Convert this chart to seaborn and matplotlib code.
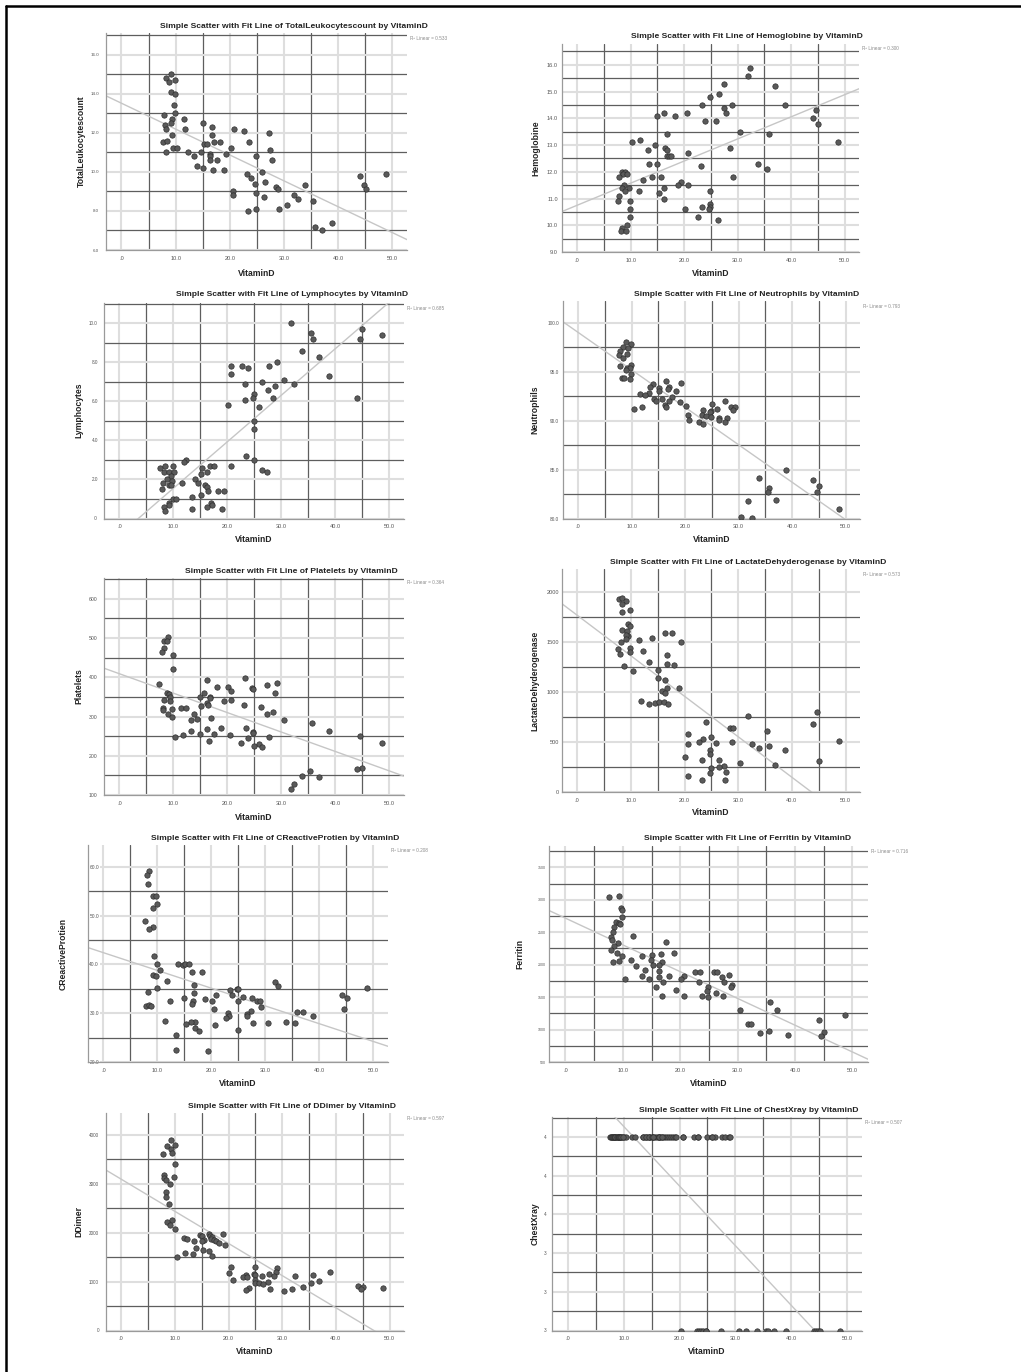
import matplotlib
matplotlib.use("Agg")
import matplotlib.pyplot as plt
from matplotlib.lines import Line2D
from matplotlib.ticker import FixedLocator, FixedFormatter
import numpy as np
import pandas as pd
import seaborn as sns

sns.set_theme(style="white")
plt.rcParams['font.family'] = ['Liberation Sans', 'DejaVu Sans']

# ---------------- data ----------------
leuk_vitd = [9.1, 8.2, 8.8, 9.9, 9.1, 9.9, 9.7, 9.9, 7.9, 9.3, 11.5, 8.1, 9.1, 8.3, 11.8, 15.1, 16.8,
             20.7, 22.6, 27.3, 9.4, 16.8, 7.6, 8.4, 15.3, 15.7, 17.0, 18.2, 23.5, 9.6, 10.3, 20.2, 27.4,
             8.2, 12.3, 14.6, 13.3, 16.3, 16.3, 19.3, 24.9, 16.4, 17.7, 27.7, 13.9, 15.1, 16.9, 18.9,
             25.9, 23.1, 23.9, 26.5, 24.7, 33.8, 28.5, 28.9, 20.6, 24.9, 20.6, 31.9, 26.4, 32.5, 30.5,
             35.4, 29.1, 24.9, 23.3, 38.9, 35.8, 37.0, 44.1, 44.7, 45.1, 48.8]
leuk_vals = [15.0, 14.8, 14.6, 14.7, 14.1, 14.0, 13.4, 13.0, 12.9, 12.7, 12.7, 12.4, 12.5, 12.2, 12.2,
             12.5, 12.3, 12.2, 12.1, 12.0, 11.9, 11.9, 11.5, 11.6, 11.4, 11.4, 11.5, 11.5, 11.5, 11.2,
             11.2, 11.2, 11.1, 11.0, 11.0, 11.0, 10.8, 10.9, 10.8, 10.9, 10.8, 10.6, 10.6, 10.6, 10.3,
             10.2, 10.1, 10.1, 10.0, 9.9, 9.7, 9.5, 9.4, 9.3, 9.2, 9.1, 9.0, 8.9, 8.8, 8.8, 8.7, 8.6,
             8.3, 8.5, 8.1, 8.1, 8.0, 7.4, 7.2, 7.0, 9.8, 9.3, 9.1, 9.9]

hemo_vitd = [32.4, 31.9, 27.4, 37.0, 26.5, 24.9, 23.4, 28.9, 38.9, 27.4, 44.7, 16.3, 20.5, 27.8, 15.0,
             18.2, 44.1, 23.9, 25.9, 45.1, 30.4, 16.8, 35.8, 11.75, 10.3, 48.8, 14.5, 16.4, 28.5, 13.25,
             16.7, 20.7, 16.7, 17.1, 17.6, 13.4, 15.0, 33.9, 23.1, 35.5, 8.3, 9.0, 8.6, 9.4, 7.9, 13.9,
             15.7, 29.1, 12.25, 19.4, 18.9, 20.7, 8.75, 8.4, 9.7, 16.2, 9.0, 11.5, 24.9, 15.2, 7.9, 7.6,
             9.9, 16.3, 24.9, 24.9, 23.4, 20.1, 9.9, 24.7, 9.9, 22.6, 26.4, 9.4, 8.4, 8.2, 9.2]
hemo_vals = [15.9, 15.6, 15.3, 15.2, 14.9, 14.8, 14.5, 14.5, 14.5, 14.4, 14.3, 14.2, 14.2, 14.2, 14.1,
             14.1, 14.0, 13.9, 13.9, 13.8, 13.5, 13.4, 13.4, 13.2, 13.1, 13.1, 13.0, 12.9, 12.9, 12.8,
             12.8, 12.7, 12.6, 12.6, 12.6, 12.3, 12.3, 12.3, 12.2, 12.1, 12.0, 12.0, 11.9, 11.9, 11.8,
             11.8, 11.8, 11.8, 11.7, 11.6, 11.5, 11.5, 11.5, 11.4, 11.4, 11.4, 11.3, 11.3, 11.3, 11.2,
             11.1, 10.9, 10.9, 11.0, 10.8, 10.7, 10.7, 10.6, 10.6, 10.6, 10.3, 10.3, 10.2, 10.0, 9.9,
             9.8, 9.8]

lymph_vitd = [31.8, 35.4, 45.0, 35.8, 44.6, 48.6, 33.8, 36.9, 29.1, 20.6, 22.7, 27.7, 23.8, 20.75, 38.8,
              30.4, 26.4, 23.3, 32.4, 28.9, 27.5, 24.9, 24.7, 28.5, 44.0, 23.2, 20.1, 25.9, 24.9, 24.9,
              23.4, 24.9, 12.3, 11.9, 7.6, 8.5, 9.9, 15.3, 16.8, 17.6, 20.6, 26.4, 27.3, 8.3, 9.1, 10.1,
              16.3, 15.1, 9.5, 8.8, 14.0, 9.7, 8.1, 11.6, 14.6, 9.2, 9.6, 15.8, 16.3, 7.95, 16.4, 18.3,
              19.3, 15.1, 13.5, 9.9, 10.4, 9.1, 9.2, 16.9, 17.1, 16.3, 8.2, 8.4, 13.4, 19.0]
lymph_vals = [10.0, 9.5, 9.7, 9.2, 9.2, 9.4, 8.6, 8.3, 8.0, 7.8, 7.8, 7.8, 7.7, 7.4, 7.3, 7.1, 7.0, 6.9,
              6.9, 6.8, 6.6, 6.4, 6.2, 6.2, 6.2, 6.1, 5.8, 5.7, 5.0, 4.6, 3.2, 3.0, 3.0, 2.9, 2.6, 2.7,
              2.7, 2.6, 2.7, 2.7, 2.7, 2.5, 2.4, 2.4, 2.4, 2.4, 2.4, 2.3, 2.2, 2.0, 2.0, 1.9, 1.8, 1.8,
              1.8, 1.7, 1.7, 1.7, 1.6, 1.5, 1.4, 1.4, 1.4, 1.2, 1.1, 1.0, 1.0, 0.8, 0.7, 0.8, 0.7, 0.6,
              0.6, 0.4, 0.5, 0.5]

neut_vitd = [8.9, 9.9, 8.3, 9.4, 7.9, 7.7, 9.2, 8.4, 7.9, 9.9, 9.2, 9.7, 9.0, 9.9, 8.25, 8.6, 9.75, 16.4,
             19.3, 13.9, 13.5, 15.1, 16.9, 16.7, 15.1, 18.3, 13.3, 11.6, 12.4, 14.25, 15.75, 17.6, 27.4,
             14.6, 16.9, 19.0, 25.0, 16.3, 16.4, 11.9, 20.2, 10.4, 25.9, 28.5, 29.25, 23.3, 24.8, 29.0,
             24.6, 20.6, 23.2, 23.9, 24.9, 26.4, 27.75, 20.7, 26.4, 22.6, 23.4, 27.5, 38.9, 33.9, 44.0,
             45.1, 35.75, 35.4, 44.7, 31.8, 36.9, 48.8, 30.4, 32.5]
neut_vals = [98.0, 97.8, 97.5, 97.4, 97.1, 96.7, 96.8, 96.4, 95.6, 95.7, 95.4, 95.4, 95.2, 94.7, 94.3,
             94.3, 94.2, 94.0, 93.8, 93.7, 93.4, 93.3, 93.4, 93.2, 93.0, 93.0, 92.8, 92.7, 92.6, 92.2,
             92.2, 92.4, 92.0, 92.0, 92.0, 91.9, 91.7, 91.6, 91.4, 91.4, 91.5, 91.2, 91.2, 91.4, 91.4,
             91.1, 91.0, 91.1, 90.9, 90.6, 90.6, 90.5, 90.4, 90.3, 90.3, 90.1, 90.1, 89.8, 89.6, 89.9,
             85.0, 84.1, 83.9, 83.3, 83.1, 82.7, 82.7, 81.8, 81.9, 81.0, 80.2, 80.1]

plt_vitd = [9.0, 8.3, 8.8, 8.3, 7.9, 9.9, 9.9, 7.4, 16.3, 23.3, 27.4, 29.1, 18.1, 20.1, 24.5, 24.7, 20.6,
            15.6, 8.9, 9.2, 28.8, 9.4, 14.9, 16.7, 16.8, 8.2, 9.4, 19.3, 20.6, 16.2, 16.35, 23.0, 15.2,
            8.0, 11.4, 12.3, 26.3, 9.7, 8.0, 13.8, 9.0, 27.3, 28.5, 9.8, 17.0, 13.3, 14.4, 30.4, 35.7,
            38.8, 13.2, 16.2, 18.9, 23.4, 24.8, 24.8, 14.9, 11.7, 17.5, 10.3, 20.5, 27.7, 23.8, 44.6,
            16.6, 22.6, 25.8, 24.9, 26.4, 48.7, 35.3, 45.0, 44.0, 33.8, 36.9, 32.3, 31.7]
plt_vals = [503, 493, 493, 475, 464, 456, 422, 383, 394, 398, 380, 385, 374, 374, 373, 369, 364, 361,
            361, 357, 361, 351, 349, 350, 346, 341, 340, 340, 341, 335, 329, 330, 327, 322, 322, 322,
            323, 319, 316, 307, 306, 306, 312, 300, 295, 291, 293, 291, 284, 264, 262, 269, 272, 272,
            261, 257, 255, 254, 255, 248, 252, 247, 244, 250, 238, 233, 229, 225, 223, 233, 162, 170,
            165, 148, 145, 128, 116]

ldh_vitd = [7.8, 8.3, 9.1, 8.4, 9.9, 8.3, 9.5, 9.9, 8.4, 9.3, 9.5, 9.0, 9.1, 8.2, 16.3, 17.6, 19.3, 11.5,
            13.9, 9.9, 9.8, 7.6, 7.95, 12.3, 16.7, 13.4, 16.8, 18.1, 8.8, 10.3, 15.0, 15.0, 16.3, 18.9,
            16.7, 15.7, 16.4, 11.9, 13.4, 14.5, 15.3, 16.2, 17.0, 31.9, 44.6, 44.0, 23.9, 28.4, 29.1,
            35.3, 20.6, 24.9, 23.4, 22.6, 48.8, 20.7, 25.8, 28.9, 32.5, 35.7, 33.9, 38.8, 24.8, 24.8,
            20.1, 23.2, 26.4, 45.1, 30.4, 36.9, 27.3, 26.5, 24.9, 27.75, 24.7, 20.6, 23.3, 27.5]
ldh_vals = [1930, 1933, 1907, 1873, 1817, 1800, 1673, 1660, 1617, 1607, 1553, 1567, 1530, 1500, 1590,
            1587, 1500, 1520, 1540, 1433, 1400, 1430, 1377, 1403, 1370, 1293, 1273, 1270, 1260, 1207,
            1213, 1137, 1120, 1040, 1040, 1010, 987, 907, 877, 887, 893, 900, 880, 760, 803, 683, 697,
            637, 637, 610, 580, 547, 527, 500, 510, 480, 490, 497, 480, 463, 437, 423, 420, 377, 347,
            323, 323, 313, 290, 270, 260, 250, 237, 200, 190, 157, 120, 120]

crp_vitd = [8.45, 8.1, 8.3, 9.2, 9.8, 10.0, 9.2, 7.7, 9.25, 8.45, 9.4, 10.0, 13.9, 14.7, 15.2, 15.8,
            10.4, 16.35, 18.25, 9.2, 9.7, 11.8, 31.8, 32.4, 16.8, 10.0, 24.8, 25.0, 48.8, 23.4, 8.3,
            16.8, 23.9, 20.8, 44.1, 25.8, 27.5, 45.1, 15.0, 18.9, 12.4, 16.5, 20.2, 24.9, 28.5, 29.0,
            16.4, 7.95, 8.45, 8.9, 29.2, 20.5, 44.6, 27.3, 35.8, 36.9, 23.1, 26.5, 38.8, 23.3, 26.6,
            22.7, 11.5, 17.0, 16.3, 33.9, 27.7, 30.5, 35.5, 15.3, 20.65, 17.0, 17.7, 24.9, 13.5, 13.4,
            19.4]
crp_vals = [59.2, 58.4, 56.4, 54.1, 54.0, 52.3, 51.5, 48.9, 47.6, 47.2, 41.8, 40.1, 40.0, 39.85, 40.0,
            40.05, 38.8, 38.55, 38.5, 37.9, 37.7, 36.7, 36.4, 35.5, 35.8, 35.1, 35.0, 34.9, 35.1, 34.8,
            34.3, 34.1, 33.8, 33.7, 33.7, 33.3, 33.2, 33.2, 33.2, 32.9, 32.6, 32.6, 32.55, 32.6, 32.5,
            32.6, 31.9, 31.4, 31.7, 31.5, 31.3, 30.85, 30.8, 30.5, 30.2, 30.2, 30.1, 29.8, 29.5, 29.5,
            29.35, 29.1, 28.5, 28.25, 28.2, 28.3, 28.1, 28.1, 28.0, 27.7, 27.6, 27.0, 26.3, 26.5, 25.5,
            22.4, 22.2]

ferr_vitd = [7.6, 9.4, 9.7, 9.9, 9.9, 8.9, 9.3, 9.5, 8.5, 8.35, 11.8, 7.9, 8.2, 17.6, 9.1, 8.5, 7.9, 9.0,
             16.7, 18.9, 15.0, 13.4, 9.9, 11.5, 14.9, 9.3, 8.3, 16.8, 15.25, 16.35, 12.35, 16.3, 13.85,
             22.6, 23.4, 25.8, 26.4, 28.5, 13.3, 18.1, 16.3, 20.6, 27.3, 14.55, 10.3, 20.2, 17.0, 23.2,
             27.7, 29.1, 28.9, 24.9, 24.75, 15.7, 19.3, 26.3, 16.8, 20.6, 23.8, 24.9, 27.4, 35.7, 36.9,
             30.4, 44.1, 48.75, 31.8, 32.3, 35.4, 33.85, 45.0, 38.8, 44.6]
ferr_vals = [3050, 3065, 2870, 2850, 2738, 2660, 2645, 2635, 2580, 2510, 2435, 2425, 2375, 2345, 2335,
             2290, 2230, 2180, 2170, 2175, 2150, 2135, 2140, 2075, 2075, 2055, 2035, 2035, 2000, 1990,
             1980, 1900, 1920, 1895, 1880, 1880, 1895, 1835, 1825, 1820, 1815, 1825, 1810, 1785, 1775,
             1775, 1735, 1735, 1730, 1685, 1655, 1655, 1600, 1655, 1615, 1565, 1510, 1515, 1510, 1500,
             1520, 1430, 1300, 1300, 1155, 1225, 1090, 1090, 985, 945, 965, 915, 905]

ddim_vitd = [9.2, 8.5, 10.0, 9.3, 9.5, 7.7, 10.0, 8.05, 9.8, 7.9, 8.4, 9.1, 8.25, 8.25, 8.9, 9.4, 8.5,
             9.1, 10.0, 19.0, 14.6, 16.3, 16.6, 15.0, 16.85, 11.7, 12.3, 16.7, 15.4, 17.2, 17.6, 18.15,
             13.5, 15.1, 19.3, 13.9, 15.15, 16.3, 11.9, 13.3, 17.0, 10.35, 20.5, 24.85, 29.05, 28.8,
             38.85, 20.1, 24.65, 24.85, 27.5, 23.2, 35.75, 32.4, 22.6, 23.5, 26.3, 28.5, 24.85, 20.75,
             27.3, 36.9, 24.9, 25.7, 26.4, 35.4, 33.8, 44.05, 45.0, 44.6, 48.7, 23.8, 23.3, 27.7, 31.85,
             30.4]
ddim_vals = [3890, 3760, 3795, 3700, 3630, 3605, 3405, 3170, 3140, 3105, 3070, 2990, 2825, 2725, 2580,
             2260, 2215, 2145, 2065, 1970, 1950, 1960, 1935, 1920, 1905, 1895, 1875, 1875, 1855, 1855,
             1825, 1785, 1825, 1820, 1750, 1680, 1635, 1615, 1575, 1565, 1520, 1510, 1295, 1300, 1285,
             1190, 1200, 1180, 1160, 1140, 1160, 1125, 1125, 1105, 1090, 1090, 1105, 1105, 1035, 1030,
             1000, 1010, 965, 960, 955, 960, 890, 915, 890, 850, 865, 865, 830, 840, 845, 810]

# ChestXray: visible points plus ones hidden under overlapping markers in the dense row
cxr_vitd_pos = [7.5, 7.9, 8.25, 8.6, 8.95, 9.3, 9.7, 10.0, 10.4, 11.5, 12.1, 13.4, 13.75, 14.1, 14.5,
                14.8, 15.2, 15.55, 15.9, 16.3, 16.6, 17.0, 17.35, 17.7, 18.1, 18.4, 18.8, 19.2, 20.7,
                22.6, 23.3, 24.9, 25.75, 26.35, 27.55, 28.2, 28.8, 29.1,
                7.7, 7.9, 8.1, 8.3, 8.4, 8.5, 8.8, 9.0, 9.1, 9.2, 9.4, 9.6, 9.9,
                13.5, 14.0, 14.6, 15.1, 15.3, 16.3, 16.4, 16.8, 19.3, 20.6, 23.4, 25.9]
cxr_vitd_neg = [20.2, 23.1, 23.5, 23.8, 24.2, 24.7, 24.8, 27.4, 30.6, 32.0, 33.9, 35.5, 35.8, 37.0, 39.0,
                44.1, 44.5, 44.8, 45.2, 48.8]
cxr_vitd = cxr_vitd_pos + cxr_vitd_neg
cxr_vals = [4] * len(cxr_vitd_pos) + [3] * len(cxr_vitd_neg)

xtick_labels = [".0", "10.0", "20.0", "30.0", "40.0", "50.0"]
leuk_ticks = ["6.0", "8.0", "10.0", "12.0", "14.0", "16.0"]
hemo_ticks = ["9.0", "10.0", "11.0", "12.0", "13.0", "14.0", "15.0", "16.0"]
lymph_ticks = [".0", "2.0", "4.0", "6.0", "8.0", "10.0"]
neut_ticks = ["80.0", "85.0", "90.0", "95.0", "100.0"]
plt_ticks = ["100", "200", "300", "400", "500", "600"]
ldh_ticks = ["0", "500", "1000", "1500", "2000"]
crp_ticks = ["20.0", "30.0", "40.0", "50.0", "60.0"]
ferr_ticks = ["500", "1000", "1500", "2000", "2500", "3000", "3500"]
ddim_ticks = ["0", "1000", "2000", "3000", "4000"]
cxr_ticks = ["3", "3", "3", "4", "4", "4"]

r2_values = ["0.533", "0.300", "0.685", "0.793", "0.364", "0.573", "0.208", "0.716", "0.597", "0.507"]

# ---------------- layout ----------------
W, H = 1021, 1372
fig = plt.figure(figsize=(W / 100, H / 100), dpi=100)
fig.patch.set_facecolor("white")

panels = [
    # name, x, y, major ticks, labels, minor ticks, ylim, box(l,t,r,b), title cx, title y,
    # ylabel x, xlabel y, ytick fontsize, ytick pad
    ("TotalLeukocytescount", leuk_vitd, leuk_vals, np.arange(6, 17, 2), leuk_ticks, np.arange(7, 18, 2),
     (6, 17.1), (106, 33, 407, 250), 294, 26, 81, 273, 3.2, 5),
    ("Hemoglobine", hemo_vitd, hemo_vals, np.arange(9, 17, 1), hemo_ticks, np.arange(9.5, 17, 1),
     (9, 16.78), (562, 44, 859, 252), 747, 37, 536, 273, 4.1, 3),
    ("Lymphocytes", lymph_vitd, lymph_vals, np.arange(0, 11, 2), lymph_ticks, np.arange(1, 12, 2),
     (0, 11.05), (104, 303, 404, 518.5), 292, 294, 79, 540, 3.3, 4.5),
    ("Neutrophils", neut_vitd, neut_vals, np.arange(80, 101, 5), neut_ticks, np.arange(82.5, 100, 5),
     (80, 102.2), (563, 301, 860, 518.5), 747, 294, 535, 540, 3.4, 3),
    ("Platelets", plt_vitd, plt_vals, np.arange(100, 601, 100), plt_ticks, np.arange(150, 660, 100),
     (100, 653), (104, 578, 404, 795), 291, 571, 79, 817, 3.7, 4.5),
    ("LactateDehyderogenase", ldh_vitd, ldh_vals, np.arange(0, 2001, 500), ldh_ticks, np.arange(250, 2000, 500),
     (0, 2225), (562, 569, 860, 792), 748, 562, 535, 812, 4.1, 2),
    ("CReactiveProtien", crp_vitd, crp_vals, np.arange(20, 61, 10), crp_ticks, np.arange(25, 60, 10),
     (20, 64.5), (88, 845, 388, 1062), 275, 838, 63, 1084, 3.5, -7.9),
    ("Ferritin", ferr_vitd, ferr_vals, np.arange(500, 3501, 500), ferr_ticks, np.arange(750, 3800, 500),
     (500, 3830), (549, 846, 868, 1062), 748, 838, 520, 1084, 2.6, 2),
    ("DDimer", ddim_vitd, ddim_vals, np.arange(0, 4001, 1000), ddim_ticks, np.arange(500, 4000, 1000),
     (0, 4440), (106, 1113, 404, 1330.5), 292, 1106, 79, 1352, 3.3, 5),
    ("ChestXray", cxr_vitd, cxr_vals, np.arange(3.0, 4.01, 0.2), cxr_ticks, np.arange(3.1, 4.15, 0.2),
     (3, 4.103), (552, 1117, 862, 1330.5), 749, 1110, 535, 1352, 3.3, 4),
]

XLIM = (-2.85, 52.7)
LIGHT = "#dedede"
DARK = "#5e5e5e"

for i, (name, xs, ys, majors, labels, minors, ylim, box, tcx, ty, ylx, xly, yfs, ypad) in enumerate(panels):
    l, t, r, b = box
    ax = fig.add_axes([l / W, 1 - b / H, (r - l) / W, (b - t) / H])
    ax.set_facecolor("white")
    df = pd.DataFrame({"VitaminD": xs, name: ys})

    ax.set_xlim(*XLIM)
    ax.set_ylim(*ylim)

    # grid: light at major ticks, dark at midpoints
    ax.xaxis.set_major_locator(FixedLocator(np.arange(0, 51, 10)))
    ax.xaxis.set_major_formatter(FixedFormatter(xtick_labels))
    ax.xaxis.set_minor_locator(FixedLocator(np.arange(5, 50, 10)))
    ax.yaxis.set_major_locator(FixedLocator(majors))
    ax.yaxis.set_major_formatter(FixedFormatter(labels))
    ax.yaxis.set_minor_locator(FixedLocator(minors))
    ax.grid(which="major", color=LIGHT, linewidth=1.5, zorder=0)
    ax.grid(which="minor", color=DARK, linewidth=0.9, zorder=0)
    ax.set_axisbelow(True)

    # fit line (OLS over the full x range)
    sns.regplot(data=df, x="VitaminD", y=name, ax=ax, scatter=False, ci=None, truncate=False,
                line_kws=dict(color="#c6c6c6", linewidth=1.0, zorder=2))
    sns.scatterplot(data=df, x="VitaminD", y=name, ax=ax, s=15, color="#5a5a5a",
                    edgecolor="#2e2e2e", linewidth=0.5, zorder=3, legend=False)
    ax.set_xlim(*XLIM)
    ax.set_ylim(*ylim)

    for s in ("top", "right"):
        ax.spines[s].set_visible(False)
    for s in ("left", "bottom"):
        ax.spines[s].set_color("#9a9a9a")
        ax.spines[s].set_linewidth(0.9)

    ax.tick_params(axis="both", which="both", length=0)
    ax.tick_params(axis="x", labelsize=4.1, colors="#555555", pad=4)
    ax.tick_params(axis="y", labelsize=yfs, colors="#555555", pad=ypad)
    if ypad < 0:
        for lab in ax.get_yticklabels():
            lab.set_bbox(dict(facecolor="white", edgecolor="none", pad=0.6))

    wpx, hpx = r - l, b - t
    ax.set_xlabel("VitaminD", fontsize=6.2, fontweight="bold", color="#222222")
    ax.xaxis.label.set_va("center")
    ax.xaxis.set_label_coords(0.5, -(xly - b) / hpx)
    ax.set_ylabel(name, fontsize=6.2, fontweight="bold", color="#222222")
    ax.yaxis.label.set_va("center")
    ax.yaxis.set_label_coords((ylx - l) / wpx, 0.5)

    fig.text(tcx / W, 1 - ty / H, f"Simple Scatter with Fit Line of {name} by VitaminD",
             ha="center", va="center", fontsize=6.1, fontweight="bold", color="#222222")
    ax.text(1 + 3 / wpx, 1 - 5 / hpx, f"R² Linear = {r2_values[i]}", transform=ax.transAxes,
            ha="left", va="center", fontsize=3.4, color="#8c8c8c")

# frame lines (top and left)
fig.add_artist(Line2D([6 / W, 1], [1 - 6 / H, 1 - 6 / H], color="black", linewidth=1.8))
fig.add_artist(Line2D([6 / W, 6 / W], [0, 1 - 6 / H], color="black", linewidth=1.8))

fig.savefig("out.png", dpi=100, facecolor="white")
